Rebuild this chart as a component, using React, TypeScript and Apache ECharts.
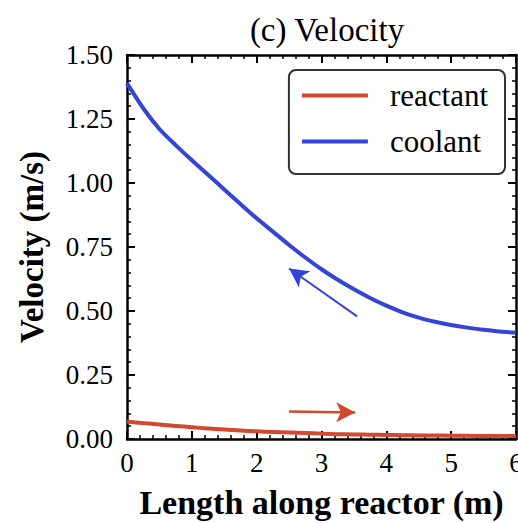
import React, { useEffect, useRef } from "react";
import * as echarts from "echarts";

const positions = [0, 0.25, 0.5, 0.75, 1, 1.25, 1.5, 1.75, 2, 2.25, 2.5, 2.75, 3, 3.25, 3.5, 3.75, 4, 4.25, 4.5, 4.75, 5, 5.25, 5.5, 5.75, 6];
const coolant = [1.39, 1.292, 1.211, 1.148, 1.089, 1.032, 0.975, 0.918, 0.862, 0.81, 0.758, 0.709, 0.663, 0.622, 0.585, 0.551, 0.521, 0.495, 0.474, 0.458, 0.445, 0.435, 0.427, 0.42, 0.415];
const reactant = [0.068, 0.062, 0.057, 0.051, 0.046, 0.041, 0.037, 0.033, 0.03, 0.027, 0.025, 0.023, 0.021, 0.019, 0.018, 0.017, 0.016, 0.015, 0.014, 0.0135, 0.013, 0.0125, 0.012, 0.012, 0.012];
const coolantArrow = [[3.55, 0.479], [2.5, 0.666]];
const reactantArrow = [[2.5, 0.107], [3.52, 0.104]];
const xTicks = [0, 1, 2, 3, 4, 5, 6];
const yTicks = [0, 0.25, 0.5, 0.75, 1.0, 1.25, 1.5];

const RED = "#d1492f";
const BLUE = "#3444d6";
const SERIF = "Liberation Serif, Times New Roman, serif";

export default function App() {
  const ref = useRef<HTMLDivElement>(null);
  useEffect(() => {
    if (!ref.current) return;
    const chart = echarts.init(ref.current, null, { renderer: "svg" });
    const axisLine = { show: true, onZero: false, lineStyle: { color: "#000", width: 2.5 } };
    const axisTick = { show: true, inside: true, length: 8, lineStyle: { color: "#000", width: 2 } };
    const minorTick = { show: true, splitNumber: 5, length: 4, lineStyle: { color: "#000", width: 1.5 } };
    const xMin = xTicks[0], xMax = xTicks[xTicks.length - 1];
    const yMin = yTicks[0], yMax = yTicks[yTicks.length - 1];
    chart.setOption({
      animation: false,
      title: {
        text: "(c) Velocity",
        left: 322,
        top: 8,
        textAlign: "center",
        textStyle: { fontFamily: SERIF, fontSize: 33, fontWeight: "normal", color: "#000" },
      },
      legend: {
        orient: "vertical",
        right: 13,
        top: 70,
        padding: [10, 17, 17, 13],
        itemWidth: 66,
        itemHeight: 4,
        itemGap: 15,
        borderColor: "#333",
        borderWidth: 2,
        borderRadius: 7,
        textStyle: { fontFamily: SERIF, fontSize: 31, color: "#000", padding: [0, 0, 0, 17] },
        data: [
          { name: "reactant", icon: "rect" },
          { name: "coolant", icon: "rect" },
        ],
      },
      grid: { left: 127, right: 2, top: 55, bottom: 84, containLabel: false, outerBoundsMode: "none" },
      xAxis: [
        {
          type: "value",
          min: xMin,
          max: xMax,
          interval: 1,
          position: "bottom",
          name: "Length along reactor (m)",
          nameLocation: "middle",
          nameGap: 46,
          nameTextStyle: { fontFamily: SERIF, fontSize: 34, fontWeight: "bold", color: "#000" },
          axisLine,
          axisTick,
          minorTick,
          splitLine: { show: false },
          axisLabel: { fontFamily: SERIF, fontSize: 27, color: "#000", margin: 10 },
        },
        {
          type: "value",
          min: xMin,
          max: xMax,
          interval: 1,
          position: "top",
          axisLine,
          axisTick,
          minorTick,
          splitLine: { show: false },
          axisLabel: { show: false },
        },
      ],
      yAxis: [
        {
          type: "value",
          min: yMin,
          max: yMax,
          interval: 0.25,
          position: "left",
          name: "Velocity (m/s)",
          nameLocation: "middle",
          nameGap: 79,
          nameTextStyle: { fontFamily: SERIF, fontSize: 33, fontWeight: "bold", color: "#000" },
          axisLine,
          axisTick,
          minorTick,
          splitLine: { show: false },
          axisLabel: {
            fontFamily: SERIF,
            fontSize: 27,
            color: "#000",
            margin: 14,
            formatter: (v: number) => v.toFixed(2),
          },
        },
        {
          type: "value",
          min: yMin,
          max: yMax,
          interval: 0.25,
          position: "right",
          axisLine,
          axisTick,
          minorTick,
          splitLine: { show: false },
          axisLabel: { show: false },
        },
      ],
      series: [
        {
          name: "reactant",
          type: "line",
          xAxisIndex: 0,
          yAxisIndex: 0,
          data: positions.map((x, i) => [x, reactant[i]]),
          smooth: 0.25,
          symbol: "none",
          showSymbol: false,
          lineStyle: { color: RED, width: 4, join: "round" },
          itemStyle: { color: RED },
          markLine: {
            silent: true,
            symbol: ["none", "arrow"],
            symbolSize: [15, 19],
            label: { show: false },
            lineStyle: { color: RED, width: 2.5, type: "solid" },
            data: [[{ coord: reactantArrow[0] }, { coord: reactantArrow[1] }]],
          },
        },
        {
          name: "coolant",
          type: "line",
          xAxisIndex: 0,
          yAxisIndex: 0,
          data: positions.map((x, i) => [x, coolant[i]]),
          smooth: 0.25,
          symbol: "none",
          showSymbol: false,
          lineStyle: { color: BLUE, width: 4, join: "round" },
          itemStyle: { color: BLUE },
          markLine: {
            silent: true,
            symbol: ["none", "arrow"],
            symbolSize: [15, 19],
            label: { show: false },
            lineStyle: { color: BLUE, width: 2, type: "solid" },
            data: [[{ coord: coolantArrow[0] }, { coord: coolantArrow[1] }]],
          },
        },
      ],
    });
    return () => chart.dispose();
  }, []);
  return <div ref={ref} style={{ width: 518, height: 523, position: "absolute", left: 0, top: 0 }} />;
}
